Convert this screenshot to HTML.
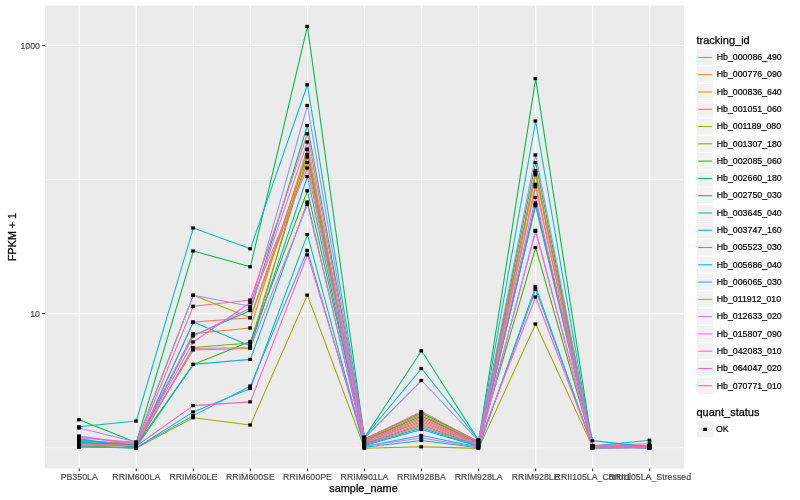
<!DOCTYPE html>
<html><head><meta charset="utf-8"><title>plot</title>
<style>html,body{margin:0;padding:0;background:#fff}svg{display:block}text{font-family:"Liberation Sans",Arial,Helvetica,sans-serif}</style></head><body>
<svg width="800" height="500" viewBox="0 0 800 500">
<rect width="800" height="500" fill="#fff"/>
<rect x="45.0" y="5.5" width="639.0" height="463.0" fill="#EBEBEB"/>
<line x1="45.0" x2="684.0" y1="179.50" y2="179.50" stroke="#fff" stroke-width="0.53"/>
<line x1="45.0" x2="684.0" y1="447.70" y2="447.70" stroke="#fff" stroke-width="0.53"/>
<line x1="45.0" x2="684.0" y1="45.40" y2="45.40" stroke="#fff" stroke-width="1.07"/>
<line x1="45.0" x2="684.0" y1="313.60" y2="313.60" stroke="#fff" stroke-width="1.07"/>
<line x1="79.23" x2="79.23" y1="5.5" y2="468.5" stroke="#fff" stroke-width="1.07"/>
<line x1="136.29" x2="136.29" y1="5.5" y2="468.5" stroke="#fff" stroke-width="1.07"/>
<line x1="193.34" x2="193.34" y1="5.5" y2="468.5" stroke="#fff" stroke-width="1.07"/>
<line x1="250.39" x2="250.39" y1="5.5" y2="468.5" stroke="#fff" stroke-width="1.07"/>
<line x1="307.45" x2="307.45" y1="5.5" y2="468.5" stroke="#fff" stroke-width="1.07"/>
<line x1="364.50" x2="364.50" y1="5.5" y2="468.5" stroke="#fff" stroke-width="1.07"/>
<line x1="421.55" x2="421.55" y1="5.5" y2="468.5" stroke="#fff" stroke-width="1.07"/>
<line x1="478.61" x2="478.61" y1="5.5" y2="468.5" stroke="#fff" stroke-width="1.07"/>
<line x1="535.66" x2="535.66" y1="5.5" y2="468.5" stroke="#fff" stroke-width="1.07"/>
<line x1="592.71" x2="592.71" y1="5.5" y2="468.5" stroke="#fff" stroke-width="1.07"/>
<line x1="649.77" x2="649.77" y1="5.5" y2="468.5" stroke="#fff" stroke-width="1.07"/>
<g fill="none" stroke-width="1.07" stroke-linejoin="round" stroke-linecap="butt">
<polyline points="79.23,445.00 136.29,446.20 193.34,322.10 250.39,317.75 307.45,162.50 364.50,444.00 421.55,426.50 478.61,445.80 535.66,186.80 592.71,445.60 649.77,443.75" stroke="#F8766D"/>
<polyline points="79.23,440.60 136.29,444.60 193.34,333.60 250.39,328.00 307.45,149.00 364.50,440.00 421.55,414.50 478.61,442.50 535.66,170.50 592.71,446.67 649.77,445.60" stroke="#EA8331"/>
<polyline points="79.23,441.30 136.29,443.50 193.34,350.00 250.39,348.50 307.45,149.60 364.50,441.60 421.55,419.00 478.61,443.80 535.66,172.80 592.71,447.74 649.77,446.78" stroke="#D89000"/>
<polyline points="79.23,441.00 136.29,443.20 193.34,295.25 250.39,317.75 307.45,154.50 364.50,442.00 421.55,422.00 478.61,444.60 535.66,174.80 592.71,446.06 649.77,447.96" stroke="#C09B00"/>
<polyline points="79.23,445.80 136.29,448.10 193.34,417.75 250.39,425.00 307.45,295.10 364.50,448.30 421.55,446.80 478.61,448.40 535.66,324.00 592.71,447.13 649.77,446.28" stroke="#A3A500"/>
<polyline points="79.23,443.20 136.29,446.50 193.34,347.50 250.39,343.00 307.45,157.00 364.50,443.60 421.55,425.00 478.61,445.40 535.66,205.80 592.71,448.20 649.77,447.46" stroke="#7CAE00"/>
<polyline points="79.23,442.80 136.29,445.20 193.34,364.40 250.39,341.50 307.45,190.80 364.50,440.60 421.55,416.00 478.61,443.00 535.66,247.60 592.71,446.52 649.77,445.77" stroke="#39B600"/>
<polyline points="79.23,419.80 136.29,442.60 193.34,251.00 250.39,266.80 307.45,26.40 364.50,438.80 421.55,413.00 478.61,441.50 535.66,78.60 592.71,447.59 649.77,446.95" stroke="#00BB4E"/>
<polyline points="79.23,442.20 136.29,445.00 193.34,335.40 250.39,310.60 307.45,125.50 364.50,437.50 421.55,350.80 478.61,440.40 535.66,162.50 592.71,445.91 649.77,448.13" stroke="#00BF7D"/>
<polyline points="79.23,446.50 136.29,447.90 193.34,411.90 250.39,388.50 307.45,234.60 364.50,447.20 421.55,440.50 478.61,447.80 535.66,286.40 592.71,446.98 649.77,446.44" stroke="#00C1A3"/>
<polyline points="79.23,426.80 136.29,421.00 193.34,228.00 250.39,248.80 307.45,84.80 364.50,437.00 421.55,368.50 478.61,440.00 535.66,121.00 592.71,448.05 649.77,447.62" stroke="#00BFC4"/>
<polyline points="79.23,439.60 136.29,447.30 193.34,364.40 250.39,359.40 307.45,202.00 364.50,444.80 421.55,428.00 478.61,446.20 535.66,204.50 592.71,446.00 649.77,440.25" stroke="#00BAE0"/>
<polyline points="79.23,438.80 136.29,447.00 193.34,322.10 250.39,346.00 307.45,176.50 364.50,445.40 421.55,429.50 478.61,446.60 535.66,203.00 592.71,440.60 649.77,447.00" stroke="#00B0F6"/>
<polyline points="79.23,447.30 136.29,447.60 193.34,415.60 250.39,386.00 307.45,250.40 364.50,446.50 421.55,435.50 478.61,447.00 535.66,289.40 592.71,446.36 649.77,445.94" stroke="#35A2FF"/>
<polyline points="79.23,437.80 136.29,442.30 193.34,295.25 250.39,306.30 307.45,105.50 364.50,438.00 421.55,380.50 478.61,440.80 535.66,155.00 592.71,447.44 649.77,447.12" stroke="#9590FF"/>
<polyline points="79.23,428.00 136.29,442.00 193.34,336.00 250.39,308.00 307.45,142.00 364.50,446.00 421.55,438.00 478.61,447.40 535.66,230.30 592.71,445.75 649.77,448.30" stroke="#C77CFF"/>
<polyline points="79.23,436.80 136.29,444.30 193.34,348.50 250.39,347.50 307.45,204.50 364.50,443.20 421.55,423.50 478.61,445.00 535.66,231.30 592.71,446.82 649.77,446.61" stroke="#E76BF3"/>
<polyline points="79.23,436.00 136.29,444.00 193.34,342.00 250.39,302.50 307.45,168.00 364.50,442.60 421.55,420.50 478.61,444.20 535.66,197.40 592.71,447.89 649.77,447.79" stroke="#FA62DB"/>
<polyline points="79.23,444.50 136.29,446.00 193.34,405.60 250.39,401.90 307.45,254.80 364.50,441.20 421.55,417.50 478.61,443.40 535.66,297.00 592.71,446.21 649.77,446.11" stroke="#FF62BC"/>
<polyline points="79.23,443.70 136.29,445.50 193.34,306.25 250.39,300.00 307.45,133.80 364.50,439.50 421.55,411.50 478.61,442.00 535.66,184.20 592.71,447.28 649.77,447.29" stroke="#FF6A98"/>
</g>
<g fill="#000">
<rect x="77.08" y="443.40" width="3.7" height="3.2"/>
<rect x="134.14" y="444.60" width="3.7" height="3.2"/>
<rect x="191.19" y="320.50" width="3.7" height="3.2"/>
<rect x="248.24" y="316.15" width="3.7" height="3.2"/>
<rect x="305.30" y="160.90" width="3.7" height="3.2"/>
<rect x="362.35" y="442.40" width="3.7" height="3.2"/>
<rect x="419.40" y="424.90" width="3.7" height="3.2"/>
<rect x="476.46" y="444.20" width="3.7" height="3.2"/>
<rect x="533.51" y="185.20" width="3.7" height="3.2"/>
<rect x="590.56" y="444.00" width="3.7" height="3.2"/>
<rect x="647.62" y="442.15" width="3.7" height="3.2"/>
<rect x="77.08" y="439.00" width="3.7" height="3.2"/>
<rect x="134.14" y="443.00" width="3.7" height="3.2"/>
<rect x="191.19" y="332.00" width="3.7" height="3.2"/>
<rect x="248.24" y="326.40" width="3.7" height="3.2"/>
<rect x="305.30" y="147.40" width="3.7" height="3.2"/>
<rect x="362.35" y="438.40" width="3.7" height="3.2"/>
<rect x="419.40" y="412.90" width="3.7" height="3.2"/>
<rect x="476.46" y="440.90" width="3.7" height="3.2"/>
<rect x="533.51" y="168.90" width="3.7" height="3.2"/>
<rect x="590.56" y="445.07" width="3.7" height="3.2"/>
<rect x="647.62" y="444.00" width="3.7" height="3.2"/>
<rect x="77.08" y="439.70" width="3.7" height="3.2"/>
<rect x="134.14" y="441.90" width="3.7" height="3.2"/>
<rect x="191.19" y="348.40" width="3.7" height="3.2"/>
<rect x="248.24" y="346.90" width="3.7" height="3.2"/>
<rect x="305.30" y="148.00" width="3.7" height="3.2"/>
<rect x="362.35" y="440.00" width="3.7" height="3.2"/>
<rect x="419.40" y="417.40" width="3.7" height="3.2"/>
<rect x="476.46" y="442.20" width="3.7" height="3.2"/>
<rect x="533.51" y="171.20" width="3.7" height="3.2"/>
<rect x="590.56" y="446.14" width="3.7" height="3.2"/>
<rect x="647.62" y="445.18" width="3.7" height="3.2"/>
<rect x="77.08" y="439.40" width="3.7" height="3.2"/>
<rect x="134.14" y="441.60" width="3.7" height="3.2"/>
<rect x="191.19" y="293.65" width="3.7" height="3.2"/>
<rect x="248.24" y="316.15" width="3.7" height="3.2"/>
<rect x="305.30" y="152.90" width="3.7" height="3.2"/>
<rect x="362.35" y="440.40" width="3.7" height="3.2"/>
<rect x="419.40" y="420.40" width="3.7" height="3.2"/>
<rect x="476.46" y="443.00" width="3.7" height="3.2"/>
<rect x="533.51" y="173.20" width="3.7" height="3.2"/>
<rect x="590.56" y="444.46" width="3.7" height="3.2"/>
<rect x="647.62" y="446.36" width="3.7" height="3.2"/>
<rect x="77.08" y="444.20" width="3.7" height="3.2"/>
<rect x="134.14" y="446.50" width="3.7" height="3.2"/>
<rect x="191.19" y="416.15" width="3.7" height="3.2"/>
<rect x="248.24" y="423.40" width="3.7" height="3.2"/>
<rect x="305.30" y="293.50" width="3.7" height="3.2"/>
<rect x="362.35" y="446.70" width="3.7" height="3.2"/>
<rect x="419.40" y="445.20" width="3.7" height="3.2"/>
<rect x="476.46" y="446.80" width="3.7" height="3.2"/>
<rect x="533.51" y="322.40" width="3.7" height="3.2"/>
<rect x="590.56" y="445.53" width="3.7" height="3.2"/>
<rect x="647.62" y="444.68" width="3.7" height="3.2"/>
<rect x="77.08" y="441.60" width="3.7" height="3.2"/>
<rect x="134.14" y="444.90" width="3.7" height="3.2"/>
<rect x="191.19" y="345.90" width="3.7" height="3.2"/>
<rect x="248.24" y="341.40" width="3.7" height="3.2"/>
<rect x="305.30" y="155.40" width="3.7" height="3.2"/>
<rect x="362.35" y="442.00" width="3.7" height="3.2"/>
<rect x="419.40" y="423.40" width="3.7" height="3.2"/>
<rect x="476.46" y="443.80" width="3.7" height="3.2"/>
<rect x="533.51" y="204.20" width="3.7" height="3.2"/>
<rect x="590.56" y="446.60" width="3.7" height="3.2"/>
<rect x="647.62" y="445.86" width="3.7" height="3.2"/>
<rect x="77.08" y="441.20" width="3.7" height="3.2"/>
<rect x="134.14" y="443.60" width="3.7" height="3.2"/>
<rect x="191.19" y="362.80" width="3.7" height="3.2"/>
<rect x="248.24" y="339.90" width="3.7" height="3.2"/>
<rect x="305.30" y="189.20" width="3.7" height="3.2"/>
<rect x="362.35" y="439.00" width="3.7" height="3.2"/>
<rect x="419.40" y="414.40" width="3.7" height="3.2"/>
<rect x="476.46" y="441.40" width="3.7" height="3.2"/>
<rect x="533.51" y="246.00" width="3.7" height="3.2"/>
<rect x="590.56" y="444.92" width="3.7" height="3.2"/>
<rect x="647.62" y="444.17" width="3.7" height="3.2"/>
<rect x="77.08" y="418.20" width="3.7" height="3.2"/>
<rect x="134.14" y="441.00" width="3.7" height="3.2"/>
<rect x="191.19" y="249.40" width="3.7" height="3.2"/>
<rect x="248.24" y="265.20" width="3.7" height="3.2"/>
<rect x="305.30" y="24.80" width="3.7" height="3.2"/>
<rect x="362.35" y="437.20" width="3.7" height="3.2"/>
<rect x="419.40" y="411.40" width="3.7" height="3.2"/>
<rect x="476.46" y="439.90" width="3.7" height="3.2"/>
<rect x="533.51" y="77.00" width="3.7" height="3.2"/>
<rect x="590.56" y="445.99" width="3.7" height="3.2"/>
<rect x="647.62" y="445.35" width="3.7" height="3.2"/>
<rect x="77.08" y="440.60" width="3.7" height="3.2"/>
<rect x="134.14" y="443.40" width="3.7" height="3.2"/>
<rect x="191.19" y="333.80" width="3.7" height="3.2"/>
<rect x="248.24" y="309.00" width="3.7" height="3.2"/>
<rect x="305.30" y="123.90" width="3.7" height="3.2"/>
<rect x="362.35" y="435.90" width="3.7" height="3.2"/>
<rect x="419.40" y="349.20" width="3.7" height="3.2"/>
<rect x="476.46" y="438.80" width="3.7" height="3.2"/>
<rect x="533.51" y="160.90" width="3.7" height="3.2"/>
<rect x="590.56" y="444.31" width="3.7" height="3.2"/>
<rect x="647.62" y="446.53" width="3.7" height="3.2"/>
<rect x="77.08" y="444.90" width="3.7" height="3.2"/>
<rect x="134.14" y="446.30" width="3.7" height="3.2"/>
<rect x="191.19" y="410.30" width="3.7" height="3.2"/>
<rect x="248.24" y="386.90" width="3.7" height="3.2"/>
<rect x="305.30" y="233.00" width="3.7" height="3.2"/>
<rect x="362.35" y="445.60" width="3.7" height="3.2"/>
<rect x="419.40" y="438.90" width="3.7" height="3.2"/>
<rect x="476.46" y="446.20" width="3.7" height="3.2"/>
<rect x="533.51" y="284.80" width="3.7" height="3.2"/>
<rect x="590.56" y="445.38" width="3.7" height="3.2"/>
<rect x="647.62" y="444.84" width="3.7" height="3.2"/>
<rect x="77.08" y="425.20" width="3.7" height="3.2"/>
<rect x="134.14" y="419.40" width="3.7" height="3.2"/>
<rect x="191.19" y="226.40" width="3.7" height="3.2"/>
<rect x="248.24" y="247.20" width="3.7" height="3.2"/>
<rect x="305.30" y="83.20" width="3.7" height="3.2"/>
<rect x="362.35" y="435.40" width="3.7" height="3.2"/>
<rect x="419.40" y="366.90" width="3.7" height="3.2"/>
<rect x="476.46" y="438.40" width="3.7" height="3.2"/>
<rect x="533.51" y="119.40" width="3.7" height="3.2"/>
<rect x="590.56" y="446.45" width="3.7" height="3.2"/>
<rect x="647.62" y="446.02" width="3.7" height="3.2"/>
<rect x="77.08" y="438.00" width="3.7" height="3.2"/>
<rect x="134.14" y="445.70" width="3.7" height="3.2"/>
<rect x="191.19" y="362.80" width="3.7" height="3.2"/>
<rect x="248.24" y="357.80" width="3.7" height="3.2"/>
<rect x="305.30" y="200.40" width="3.7" height="3.2"/>
<rect x="362.35" y="443.20" width="3.7" height="3.2"/>
<rect x="419.40" y="426.40" width="3.7" height="3.2"/>
<rect x="476.46" y="444.60" width="3.7" height="3.2"/>
<rect x="533.51" y="202.90" width="3.7" height="3.2"/>
<rect x="590.56" y="444.40" width="3.7" height="3.2"/>
<rect x="647.62" y="438.65" width="3.7" height="3.2"/>
<rect x="77.08" y="437.20" width="3.7" height="3.2"/>
<rect x="134.14" y="445.40" width="3.7" height="3.2"/>
<rect x="191.19" y="320.50" width="3.7" height="3.2"/>
<rect x="248.24" y="344.40" width="3.7" height="3.2"/>
<rect x="305.30" y="174.90" width="3.7" height="3.2"/>
<rect x="362.35" y="443.80" width="3.7" height="3.2"/>
<rect x="419.40" y="427.90" width="3.7" height="3.2"/>
<rect x="476.46" y="445.00" width="3.7" height="3.2"/>
<rect x="533.51" y="201.40" width="3.7" height="3.2"/>
<rect x="590.56" y="439.00" width="3.7" height="3.2"/>
<rect x="647.62" y="445.40" width="3.7" height="3.2"/>
<rect x="77.08" y="445.70" width="3.7" height="3.2"/>
<rect x="134.14" y="446.00" width="3.7" height="3.2"/>
<rect x="191.19" y="414.00" width="3.7" height="3.2"/>
<rect x="248.24" y="384.40" width="3.7" height="3.2"/>
<rect x="305.30" y="248.80" width="3.7" height="3.2"/>
<rect x="362.35" y="444.90" width="3.7" height="3.2"/>
<rect x="419.40" y="433.90" width="3.7" height="3.2"/>
<rect x="476.46" y="445.40" width="3.7" height="3.2"/>
<rect x="533.51" y="287.80" width="3.7" height="3.2"/>
<rect x="590.56" y="444.76" width="3.7" height="3.2"/>
<rect x="647.62" y="444.34" width="3.7" height="3.2"/>
<rect x="77.08" y="436.20" width="3.7" height="3.2"/>
<rect x="134.14" y="440.70" width="3.7" height="3.2"/>
<rect x="191.19" y="293.65" width="3.7" height="3.2"/>
<rect x="248.24" y="304.70" width="3.7" height="3.2"/>
<rect x="305.30" y="103.90" width="3.7" height="3.2"/>
<rect x="362.35" y="436.40" width="3.7" height="3.2"/>
<rect x="419.40" y="378.90" width="3.7" height="3.2"/>
<rect x="476.46" y="439.20" width="3.7" height="3.2"/>
<rect x="533.51" y="153.40" width="3.7" height="3.2"/>
<rect x="590.56" y="445.84" width="3.7" height="3.2"/>
<rect x="647.62" y="445.52" width="3.7" height="3.2"/>
<rect x="77.08" y="426.40" width="3.7" height="3.2"/>
<rect x="134.14" y="440.40" width="3.7" height="3.2"/>
<rect x="191.19" y="334.40" width="3.7" height="3.2"/>
<rect x="248.24" y="306.40" width="3.7" height="3.2"/>
<rect x="305.30" y="140.40" width="3.7" height="3.2"/>
<rect x="362.35" y="444.40" width="3.7" height="3.2"/>
<rect x="419.40" y="436.40" width="3.7" height="3.2"/>
<rect x="476.46" y="445.80" width="3.7" height="3.2"/>
<rect x="533.51" y="228.70" width="3.7" height="3.2"/>
<rect x="590.56" y="444.15" width="3.7" height="3.2"/>
<rect x="647.62" y="446.70" width="3.7" height="3.2"/>
<rect x="77.08" y="435.20" width="3.7" height="3.2"/>
<rect x="134.14" y="442.70" width="3.7" height="3.2"/>
<rect x="191.19" y="346.90" width="3.7" height="3.2"/>
<rect x="248.24" y="345.90" width="3.7" height="3.2"/>
<rect x="305.30" y="202.90" width="3.7" height="3.2"/>
<rect x="362.35" y="441.60" width="3.7" height="3.2"/>
<rect x="419.40" y="421.90" width="3.7" height="3.2"/>
<rect x="476.46" y="443.40" width="3.7" height="3.2"/>
<rect x="533.51" y="229.70" width="3.7" height="3.2"/>
<rect x="590.56" y="445.22" width="3.7" height="3.2"/>
<rect x="647.62" y="445.01" width="3.7" height="3.2"/>
<rect x="77.08" y="434.40" width="3.7" height="3.2"/>
<rect x="134.14" y="442.40" width="3.7" height="3.2"/>
<rect x="191.19" y="340.40" width="3.7" height="3.2"/>
<rect x="248.24" y="300.90" width="3.7" height="3.2"/>
<rect x="305.30" y="166.40" width="3.7" height="3.2"/>
<rect x="362.35" y="441.00" width="3.7" height="3.2"/>
<rect x="419.40" y="418.90" width="3.7" height="3.2"/>
<rect x="476.46" y="442.60" width="3.7" height="3.2"/>
<rect x="533.51" y="195.80" width="3.7" height="3.2"/>
<rect x="590.56" y="446.29" width="3.7" height="3.2"/>
<rect x="647.62" y="446.19" width="3.7" height="3.2"/>
<rect x="77.08" y="442.90" width="3.7" height="3.2"/>
<rect x="134.14" y="444.40" width="3.7" height="3.2"/>
<rect x="191.19" y="404.00" width="3.7" height="3.2"/>
<rect x="248.24" y="400.30" width="3.7" height="3.2"/>
<rect x="305.30" y="253.20" width="3.7" height="3.2"/>
<rect x="362.35" y="439.60" width="3.7" height="3.2"/>
<rect x="419.40" y="415.90" width="3.7" height="3.2"/>
<rect x="476.46" y="441.80" width="3.7" height="3.2"/>
<rect x="533.51" y="295.40" width="3.7" height="3.2"/>
<rect x="590.56" y="444.61" width="3.7" height="3.2"/>
<rect x="647.62" y="444.51" width="3.7" height="3.2"/>
<rect x="77.08" y="442.10" width="3.7" height="3.2"/>
<rect x="134.14" y="443.90" width="3.7" height="3.2"/>
<rect x="191.19" y="304.65" width="3.7" height="3.2"/>
<rect x="248.24" y="298.40" width="3.7" height="3.2"/>
<rect x="305.30" y="132.20" width="3.7" height="3.2"/>
<rect x="362.35" y="437.90" width="3.7" height="3.2"/>
<rect x="419.40" y="409.90" width="3.7" height="3.2"/>
<rect x="476.46" y="440.40" width="3.7" height="3.2"/>
<rect x="533.51" y="182.60" width="3.7" height="3.2"/>
<rect x="590.56" y="445.68" width="3.7" height="3.2"/>
<rect x="647.62" y="445.69" width="3.7" height="3.2"/>
</g>
<g stroke="#333" stroke-width="1.07">
<line x1="79.23" x2="79.23" y1="468.5" y2="471.25"/>
<line x1="136.29" x2="136.29" y1="468.5" y2="471.25"/>
<line x1="193.34" x2="193.34" y1="468.5" y2="471.25"/>
<line x1="250.39" x2="250.39" y1="468.5" y2="471.25"/>
<line x1="307.45" x2="307.45" y1="468.5" y2="471.25"/>
<line x1="364.50" x2="364.50" y1="468.5" y2="471.25"/>
<line x1="421.55" x2="421.55" y1="468.5" y2="471.25"/>
<line x1="478.61" x2="478.61" y1="468.5" y2="471.25"/>
<line x1="535.66" x2="535.66" y1="468.5" y2="471.25"/>
<line x1="592.71" x2="592.71" y1="468.5" y2="471.25"/>
<line x1="649.77" x2="649.77" y1="468.5" y2="471.25"/>
<line x1="42.25" x2="45.0" y1="45.40" y2="45.40"/>
<line x1="42.25" x2="45.0" y1="313.60" y2="313.60"/>
</g>
<g font-size="8.8" fill="#444" stroke="#444" stroke-width="0.15">
<text x="79.23" y="480.2" text-anchor="middle">PB350LA</text>
<text x="136.29" y="480.2" text-anchor="middle">RRIM600LA</text>
<text x="193.34" y="480.2" text-anchor="middle">RRIM600LE</text>
<text x="250.39" y="480.2" text-anchor="middle">RRIM600SE</text>
<text x="307.45" y="480.2" text-anchor="middle">RRIM600PE</text>
<text x="364.50" y="480.2" text-anchor="middle">RRIM901LA</text>
<text x="421.55" y="480.2" text-anchor="middle">RRIM928BA</text>
<text x="478.61" y="480.2" text-anchor="middle">RRIM928LA</text>
<text x="535.66" y="480.2" text-anchor="middle">RRIM928LE</text>
<text x="592.71" y="480.2" text-anchor="middle">RRII105LA_Control</text>
<text x="649.77" y="480.2" text-anchor="middle">RRII105LA_Stressed</text>
<text x="40" y="48.55" text-anchor="end">1000</text>
<text x="40" y="316.75" text-anchor="end">10</text>
</g>
<text x="363.50" y="491.5" font-size="10.9" text-anchor="middle" fill="#000" stroke="#000" stroke-width="0.25">sample_name</text>
<text transform="translate(15.8,237.00) rotate(-90)" font-size="10.7" text-anchor="middle" fill="#000" stroke="#000" stroke-width="0.25">FPKM + 1</text>
<text x="696.5" y="43.8" font-size="11" fill="#000" stroke="#000" stroke-width="0.25">tracking_id</text>
<rect x="696.5" y="48.80" width="17.28" height="17.28" fill="#F2F2F2" stroke="#fff" stroke-width="1.07"/>
<line x1="698.23" x2="712.05" y1="57.44" y2="57.44" stroke="#F8766D" stroke-width="1.07"/>
<text x="716.68" y="60.19" font-size="8.8" fill="#000" stroke="#000" stroke-width="0.2">Hb_000086_490</text>
<rect x="696.5" y="66.08" width="17.28" height="17.28" fill="#F2F2F2" stroke="#fff" stroke-width="1.07"/>
<line x1="698.23" x2="712.05" y1="74.72" y2="74.72" stroke="#EA8331" stroke-width="1.07"/>
<text x="716.68" y="77.47" font-size="8.8" fill="#000" stroke="#000" stroke-width="0.2">Hb_000776_090</text>
<rect x="696.5" y="83.36" width="17.28" height="17.28" fill="#F2F2F2" stroke="#fff" stroke-width="1.07"/>
<line x1="698.23" x2="712.05" y1="92.00" y2="92.00" stroke="#D89000" stroke-width="1.07"/>
<text x="716.68" y="94.75" font-size="8.8" fill="#000" stroke="#000" stroke-width="0.2">Hb_000836_640</text>
<rect x="696.5" y="100.64" width="17.28" height="17.28" fill="#F2F2F2" stroke="#fff" stroke-width="1.07"/>
<line x1="698.23" x2="712.05" y1="109.28" y2="109.28" stroke="#C09B00" stroke-width="1.07"/>
<text x="716.68" y="112.03" font-size="8.8" fill="#000" stroke="#000" stroke-width="0.2">Hb_001051_060</text>
<rect x="696.5" y="117.92" width="17.28" height="17.28" fill="#F2F2F2" stroke="#fff" stroke-width="1.07"/>
<line x1="698.23" x2="712.05" y1="126.56" y2="126.56" stroke="#A3A500" stroke-width="1.07"/>
<text x="716.68" y="129.31" font-size="8.8" fill="#000" stroke="#000" stroke-width="0.2">Hb_001189_080</text>
<rect x="696.5" y="135.20" width="17.28" height="17.28" fill="#F2F2F2" stroke="#fff" stroke-width="1.07"/>
<line x1="698.23" x2="712.05" y1="143.84" y2="143.84" stroke="#7CAE00" stroke-width="1.07"/>
<text x="716.68" y="146.59" font-size="8.8" fill="#000" stroke="#000" stroke-width="0.2">Hb_001307_180</text>
<rect x="696.5" y="152.48" width="17.28" height="17.28" fill="#F2F2F2" stroke="#fff" stroke-width="1.07"/>
<line x1="698.23" x2="712.05" y1="161.12" y2="161.12" stroke="#39B600" stroke-width="1.07"/>
<text x="716.68" y="163.87" font-size="8.8" fill="#000" stroke="#000" stroke-width="0.2">Hb_002085_060</text>
<rect x="696.5" y="169.76" width="17.28" height="17.28" fill="#F2F2F2" stroke="#fff" stroke-width="1.07"/>
<line x1="698.23" x2="712.05" y1="178.40" y2="178.40" stroke="#00BB4E" stroke-width="1.07"/>
<text x="716.68" y="181.15" font-size="8.8" fill="#000" stroke="#000" stroke-width="0.2">Hb_002660_180</text>
<rect x="696.5" y="187.04" width="17.28" height="17.28" fill="#F2F2F2" stroke="#fff" stroke-width="1.07"/>
<line x1="698.23" x2="712.05" y1="195.68" y2="195.68" stroke="#00BF7D" stroke-width="1.07"/>
<text x="716.68" y="198.43" font-size="8.8" fill="#000" stroke="#000" stroke-width="0.2">Hb_002750_030</text>
<rect x="696.5" y="204.32" width="17.28" height="17.28" fill="#F2F2F2" stroke="#fff" stroke-width="1.07"/>
<line x1="698.23" x2="712.05" y1="212.96" y2="212.96" stroke="#00C1A3" stroke-width="1.07"/>
<text x="716.68" y="215.71" font-size="8.8" fill="#000" stroke="#000" stroke-width="0.2">Hb_003645_040</text>
<rect x="696.5" y="221.60" width="17.28" height="17.28" fill="#F2F2F2" stroke="#fff" stroke-width="1.07"/>
<line x1="698.23" x2="712.05" y1="230.24" y2="230.24" stroke="#00BFC4" stroke-width="1.07"/>
<text x="716.68" y="232.99" font-size="8.8" fill="#000" stroke="#000" stroke-width="0.2">Hb_003747_160</text>
<rect x="696.5" y="238.88" width="17.28" height="17.28" fill="#F2F2F2" stroke="#fff" stroke-width="1.07"/>
<line x1="698.23" x2="712.05" y1="247.52" y2="247.52" stroke="#00BAE0" stroke-width="1.07"/>
<text x="716.68" y="250.27" font-size="8.8" fill="#000" stroke="#000" stroke-width="0.2">Hb_005523_030</text>
<rect x="696.5" y="256.16" width="17.28" height="17.28" fill="#F2F2F2" stroke="#fff" stroke-width="1.07"/>
<line x1="698.23" x2="712.05" y1="264.80" y2="264.80" stroke="#00B0F6" stroke-width="1.07"/>
<text x="716.68" y="267.55" font-size="8.8" fill="#000" stroke="#000" stroke-width="0.2">Hb_005686_040</text>
<rect x="696.5" y="273.44" width="17.28" height="17.28" fill="#F2F2F2" stroke="#fff" stroke-width="1.07"/>
<line x1="698.23" x2="712.05" y1="282.08" y2="282.08" stroke="#35A2FF" stroke-width="1.07"/>
<text x="716.68" y="284.83" font-size="8.8" fill="#000" stroke="#000" stroke-width="0.2">Hb_006065_030</text>
<rect x="696.5" y="290.72" width="17.28" height="17.28" fill="#F2F2F2" stroke="#fff" stroke-width="1.07"/>
<line x1="698.23" x2="712.05" y1="299.36" y2="299.36" stroke="#9590FF" stroke-width="1.07"/>
<text x="716.68" y="302.11" font-size="8.8" fill="#000" stroke="#000" stroke-width="0.2">Hb_011912_010</text>
<rect x="696.5" y="308.00" width="17.28" height="17.28" fill="#F2F2F2" stroke="#fff" stroke-width="1.07"/>
<line x1="698.23" x2="712.05" y1="316.64" y2="316.64" stroke="#C77CFF" stroke-width="1.07"/>
<text x="716.68" y="319.39" font-size="8.8" fill="#000" stroke="#000" stroke-width="0.2">Hb_012633_020</text>
<rect x="696.5" y="325.28" width="17.28" height="17.28" fill="#F2F2F2" stroke="#fff" stroke-width="1.07"/>
<line x1="698.23" x2="712.05" y1="333.92" y2="333.92" stroke="#E76BF3" stroke-width="1.07"/>
<text x="716.68" y="336.67" font-size="8.8" fill="#000" stroke="#000" stroke-width="0.2">Hb_015807_090</text>
<rect x="696.5" y="342.56" width="17.28" height="17.28" fill="#F2F2F2" stroke="#fff" stroke-width="1.07"/>
<line x1="698.23" x2="712.05" y1="351.20" y2="351.20" stroke="#FA62DB" stroke-width="1.07"/>
<text x="716.68" y="353.95" font-size="8.8" fill="#000" stroke="#000" stroke-width="0.2">Hb_042083_010</text>
<rect x="696.5" y="359.84" width="17.28" height="17.28" fill="#F2F2F2" stroke="#fff" stroke-width="1.07"/>
<line x1="698.23" x2="712.05" y1="368.48" y2="368.48" stroke="#FF62BC" stroke-width="1.07"/>
<text x="716.68" y="371.23" font-size="8.8" fill="#000" stroke="#000" stroke-width="0.2">Hb_064047_020</text>
<rect x="696.5" y="377.12" width="17.28" height="17.28" fill="#F2F2F2" stroke="#fff" stroke-width="1.07"/>
<line x1="698.23" x2="712.05" y1="385.76" y2="385.76" stroke="#FF6A98" stroke-width="1.07"/>
<text x="716.68" y="388.51" font-size="8.8" fill="#000" stroke="#000" stroke-width="0.2">Hb_070771_010</text>
<text x="696.5" y="416" font-size="11" fill="#000" stroke="#000" stroke-width="0.25">quant_status</text>
<rect x="696.5" y="420.70" width="17.28" height="17.28" fill="#F2F2F2" stroke="#fff" stroke-width="1.07"/>
<rect x="703.29" y="427.74" width="3.7" height="3.2" fill="#000"/>
<text x="715.98" y="432.09" font-size="8.8" fill="#000" stroke="#000" stroke-width="0.2">OK</text>
</svg></body></html>
